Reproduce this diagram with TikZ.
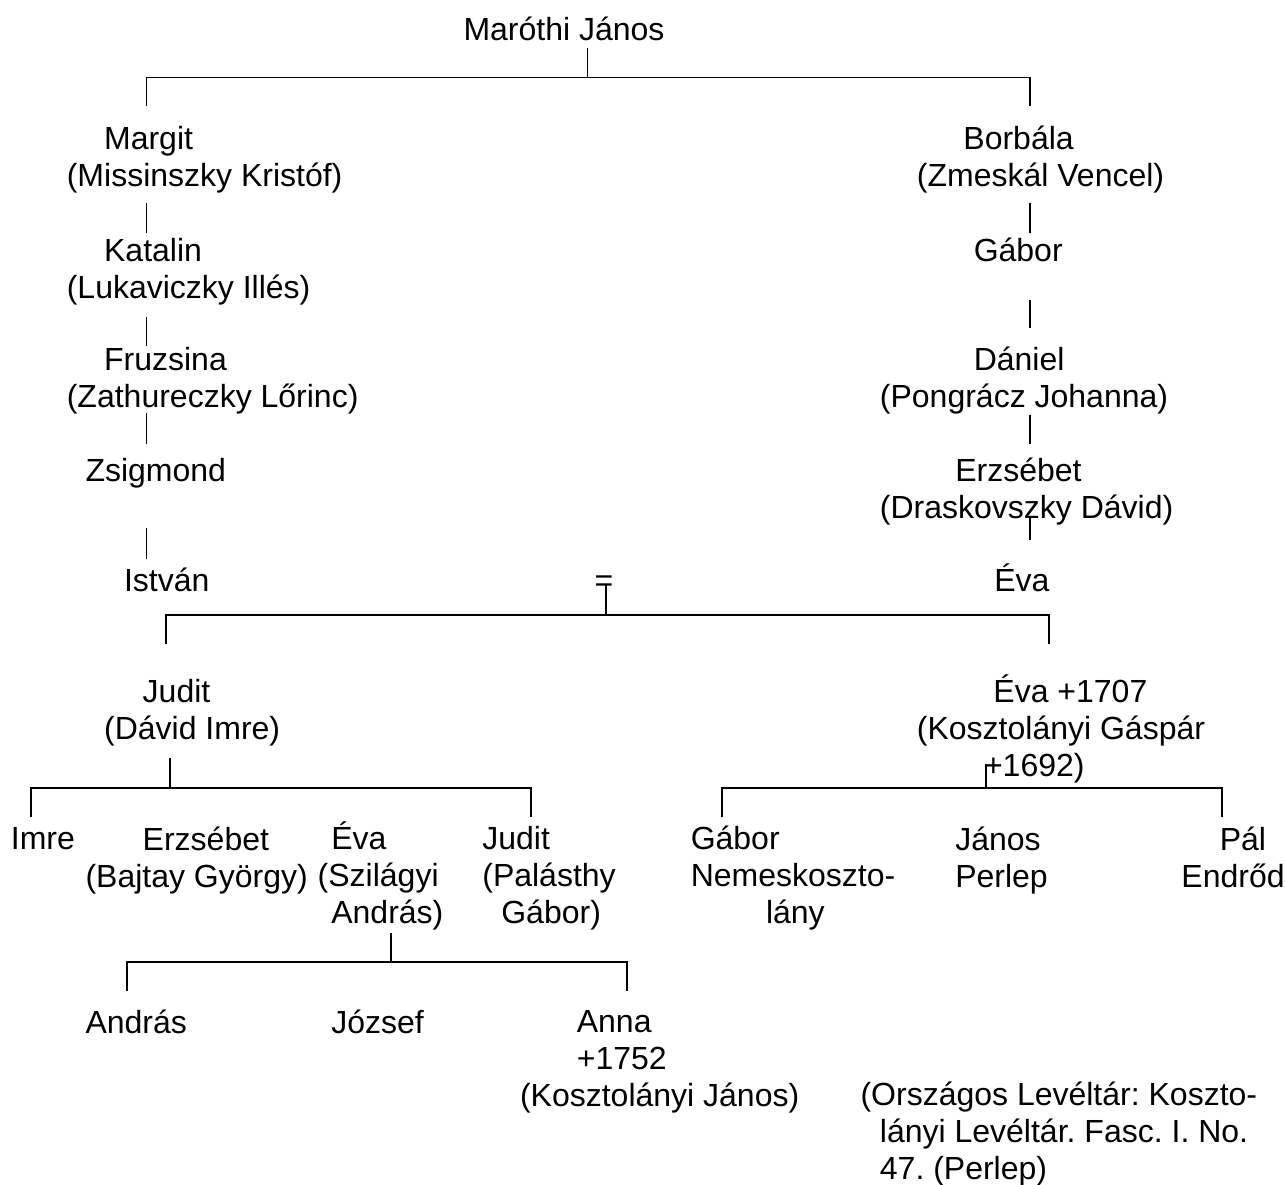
\documentclass[tikz,border=0pt]{standalone}
\usepackage{fontspec}
\setmainfont{Liberation Sans}
\usepackage{tikz}
\newdimen\px \px=0.375pt
\frenchspacing

\begin{document}
\begin{tikzpicture}[x=0.375pt,y=-0.375pt,
  every node/.style={font=\fontsize{12}{13.8}\selectfont},
  person/.style={anchor=base west,inner sep=0pt,align=left},
  tie/.style={line width=0.5pt},
  heavytie/.style={line width=0.75pt}]
\useasboundingbox (0,0) rectangle (1285,1184);

% Marothi line (nodes sit on the baseline of their last line)
\node[person] (maroti) at (463,40.2) {Maróthi János};
\node[person] (margit) at (66.3,186) {\hspace*{37.3\px}Margit\\(Missinszky Kristóf)};
\node[person] (katalin) at (66.3,298.5) {\hspace*{37.3\px}Katalin\\(Lukaviczky Illés)};
\node[person] (fruzsina) at (66.3,407.6) {\hspace*{37.3\px}Fruzsina\\(Zathureczky Lőrinc)};
\node[person] (zsigmond) at (85,481.4) {Zsigmond};
\node[person] (istvan) at (123.5,591) {István};
\node[person] (borbala) at (916.4,186) {\hspace*{46.5\px}Borbála\\(Zmeskál Vencel)};
\node[person] (gabor) at (973.2,261.4) {Gábor};
\node[person] (daniel) at (879.4,407.6) {\hspace*{93.8\px}Dániel\\(Pongrácz Johanna)};
\node[person] (erzsebet) at (879.4,518.6) {\hspace*{75.3\px}Erzsébet\\(Draskovszky Dávid)};
\node[person] (eva) at (993.8,591) {Éva};
\node[anchor=base,inner sep=0pt] (wed) at (604,591) {=};

% children
\node[person] (judit) at (103.6,739.1) {\hspace*{38.6\px}Judit\\(Dávid Imre)};
\node[person] (eva1707) at (916.4,776.5) {\hspace*{76.5\px}Éva +1707\\(Kosztolányi Gáspár\\\hspace*{67.1\px}+1692)};
\node[person] (imre) at (10.4,849.6) {Imre};
\node[person] (erzsebet2) at (85,887) {\hspace*{57.2\px}Erzsébet\\(Bajtay György)};
\node[person] (eva2) at (317.2,923) {\hspace*{13.6\px}Éva\\(Szilágyi\\\hspace*{13.6\px}András)};
\node[person] (judit2) at (481.8,923) {Judit\\(Palásthy\\\hspace*{19\px}Gábor)};
\node[person] (gabor2) at (690.2,923) {Gábor\\Nemeskoszto-\\\hspace*{75.3\px}lány};
\node[person] (janos) at (954.7,887) {János\\Perlep};
\node[person] (pal) at (1180.9,887) {\hspace*{38.3\px}Pál\\Endrőd};
\node[person] (andras) at (85,1033.8) {András};
\node[person] (jozsef) at (330.8,1033.8) {József};
\node[person] (anna) at (519.5,1106) {\hspace*{56.8\px}Anna\\\hspace*{56.8\px}+1752\\(Kosztolányi János)};
\node[person] (source) at (860,1179) {(Országos Levéltár: Koszto-\\\hspace*{19.4\px}lányi Levéltár. Fasc. I. No.\\\hspace*{19.4\px}47. (Perlep)};

% line ends
\coordinate (m-up) at (587.5,47.8);
\coordinate (m-bar) at (587.5,77.5);
\coordinate (m-l) at (146.7,106.5);
\coordinate (m-r) at (1030,106.5);
\draw[tie] (m-up) -- (m-bar);
\draw[tie] (m-l) |- (m-bar) -| (m-r);

\coordinate (l1a) at (146.7,202.8); \coordinate (l1b) at (146.7,232.7);
\coordinate (l2a) at (146.7,316.9); \coordinate (l2b) at (146.7,346.3);
\coordinate (l3a) at (146.7,413.3); \coordinate (l3b) at (146.7,443.9);
\coordinate (l4a) at (146.7,528.1); \coordinate (l4b) at (146.7,558.7);
\coordinate (r1a) at (1030,202.8); \coordinate (r1b) at (1030,232.7);
\coordinate (r2a) at (1030,300.4); \coordinate (r2b) at (1030,328.4);
\coordinate (r3a) at (1030,415.2); \coordinate (r3b) at (1030,443.9);
\coordinate (r4a) at (1030,516.6); \coordinate (r4b) at (1030,539.6);
\foreach \s in {l1,l2,l3,l4,r1,r2,r3,r4}
  \draw[tie] (\s a) -- (\s b);

% marriage
\coordinate (w-up) at (606,585);
\coordinate (w-bar) at (606,614.5);
\coordinate (w-l) at (165.8,644.3);
\coordinate (w-r) at (1049.3,644.3);
\draw[heavytie] (w-up) -- (w-bar);
\draw[heavytie] (w-l) |- (w-bar) -| (w-r);

% Judit's children
\coordinate (j-up) at (170.4,758);
\coordinate (j-bar) at (170.4,788);
\coordinate (j-l) at (31.1,816.5);
\coordinate (j-r) at (530.7,816.5);
\draw[heavytie] (j-up) -- (j-bar);
\draw[heavytie] (j-l) |- (j-bar) -| (j-r);

% Eva's children (Kosztolanyi)
\coordinate (k-up) at (985.5,764);
\coordinate (k-bar) at (985.5,788);
\coordinate (k-l) at (722.3,816.5);
\coordinate (k-r) at (1222,816.5);
\draw[heavytie] (k-up) -- (k-bar);
\draw[heavytie] (k-l) |- (k-bar) -| (k-r);

% Eva's children (Szilagyi)
\coordinate (s-up) at (390.5,932.5);
\coordinate (s-bar) at (390.5,962);
\coordinate (s-l) at (127.3,991.4);
\coordinate (s-r) at (626.9,991.4);
\draw[heavytie] (s-up) -- (s-bar);
\draw[heavytie] (s-l) |- (s-bar) -| (s-r);
\end{tikzpicture}
\end{document}
